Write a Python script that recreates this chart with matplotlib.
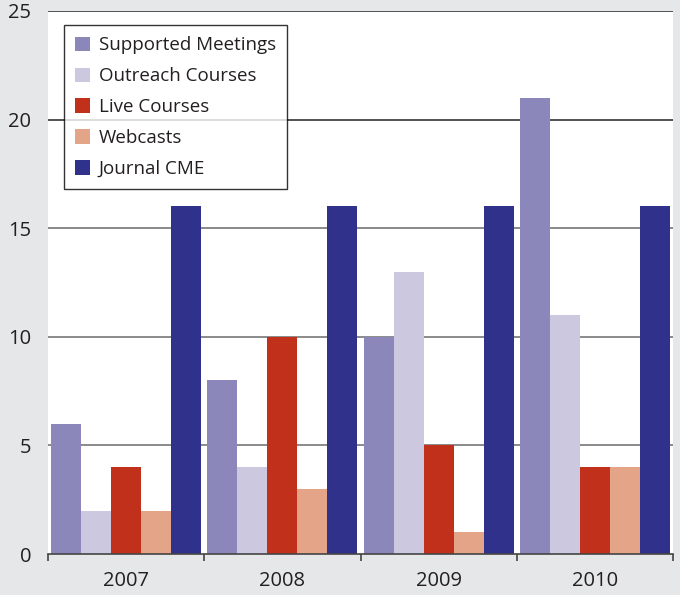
import numpy as np
import matplotlib.pyplot as plt

years = ['2007', '2008', '2009', '2010']
series = ['Supported Meetings', 'Outreach Courses', 'Live Courses', 'Webcasts', 'Journal CME']
supported = [6, 8, 10, 21]
outreach = [2, 4, 13, 11]
live = [4, 10, 5, 4]
webcasts = [2, 3, 1, 4]
journal = [16, 16, 16, 16]
colors = ['#8c87ba', '#cbc8e0', '#c0301a', '#e4a487', '#30318a']

plt.rcParams['font.family'] = ['Open Sans', 'DejaVu Sans']

fig = plt.figure(figsize=(6.8, 5.95), dpi=100, facecolor='#e6e7e8')
ax = fig.add_axes([48/680, 41/595, 625/680, 543/595])
ax.set_facecolor('white')

x = np.arange(len(years))
w = 0.192
values = [supported, outreach, live, webcasts, journal]
for i, (name, vals) in enumerate(zip(series, values)):
    ax.bar(x + (i - 2) * w, vals, width=w, color=colors[i], label=name, zorder=3, linewidth=0)

# gridlines
for yv in [5, 10, 15]:
    ax.axhline(yv, color='#777777', lw=1.2, zorder=1)
for yv in [20, 25]:
    ax.axhline(yv, color='#333333', lw=1.2, zorder=1)

ax.set_xlim(-0.5, 3.5)
ax.set_ylim(0, 25)
ax.set_yticks([0, 5, 10, 15, 20, 25])
ax.tick_params(axis='y', length=0, pad=12, labelsize=14.5, colors='#231f20')

ax.set_xticks(x)
ax.set_xticklabels(years)
ax.set_xticks(np.arange(-0.5, 4.0, 1.0), minor=True)
ax.tick_params(axis='x', which='major', length=0, pad=12, labelsize=14.5, colors='#231f20')
ax.tick_params(axis='x', which='minor', length=5, width=1.2, color='#444444', direction='out')

for s in ['left', 'right', 'top']:
    ax.spines[s].set_visible(False)
ax.spines['bottom'].set_color('#444444')
ax.spines['bottom'].set_linewidth(1.2)
ax.spines['bottom'].set_zorder(4)

leg = ax.legend(loc='upper left', bbox_to_anchor=(16/625, 1 - 14/543), borderaxespad=0,
                fontsize=13.5, frameon=True, fancybox=False, handlelength=0.8,
                handleheight=0.8, labelspacing=0.69, borderpad=0.6, handletextpad=0.45,
                labelcolor='#231f20')
leg.get_frame().set_edgecolor('black')
leg.get_frame().set_linewidth(1.0)
leg.set_zorder(5)

fig.savefig('out.png', dpi=100, facecolor=fig.get_facecolor())
